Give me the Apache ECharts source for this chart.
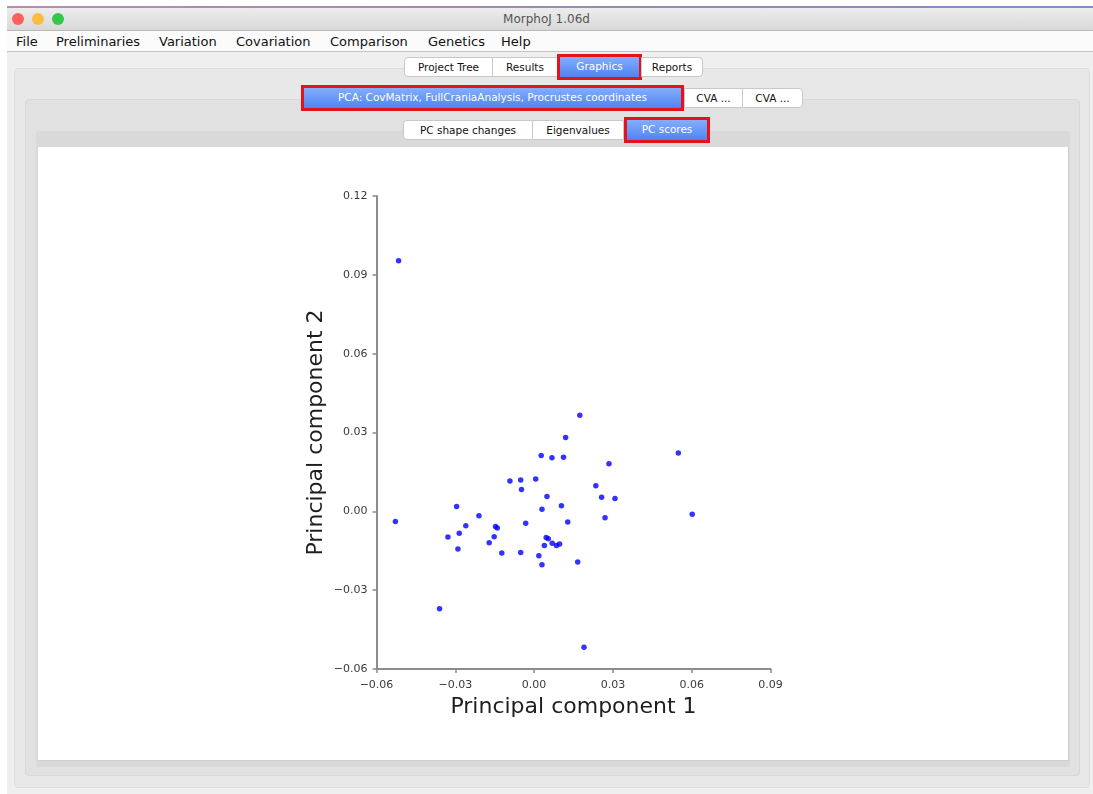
<!DOCTYPE html>
<html>
<head>
<meta charset="utf-8">
<script src="https://cdn.jsdelivr.net/npm/echarts@6/dist/echarts.min.js"></script>
<style>
  html, body { margin: 0; padding: 0; width: 1093px; height: 794px; overflow: hidden; background: #ffffff; font-family: "DejaVu Sans", "Noto Sans", sans-serif; }
  .abs { position: absolute; box-sizing: border-box; }
  .topline { left: 7px; top: 6px; width: 1086px; height: 2px; background: linear-gradient(to right, #c08aa8, #9a8ab8, #7f8cc8); }
  .titlebar { left: 7px; top: 8px; width: 1086px; height: 23px; background: linear-gradient(#ededed, #d8d8d8); border-bottom: 1px solid #b9b9b9; }
  .light { width: 12px; height: 12px; border-radius: 50%; top: 13px; }
  .title { top: 12px; left: 0; width: 1093px; text-align: center; font-size: 12px; color: #555555; }
  .menubar { left: 7px; top: 31px; width: 1086px; height: 21px; background: #fbfbfb; border-bottom: 1px solid #c4c4c4; }
  .menu { top: 34px; font-size: 13px; color: #111; }
  .winbg { left: 7px; top: 52px; width: 1086px; height: 742px; background: #efefef; }
  .p1 { left: 14px; top: 68px; width: 1076px; height: 720px; background: #e8e8e8; border: 1px solid #dedede; border-radius: 4px; }
  .p2 { left: 25px; top: 99px; width: 1055px; height: 677px; background: #e1e1e1; border: 1px solid #d8d8d8; border-radius: 4px; }
  .p3 { left: 36px; top: 131px; width: 1034px; height: 636px; background: #d9d9d9; border-radius: 3px; }
  .plot { left: 38px; top: 147px; width: 1031px; height: 614px; background: #ffffff; border-right: 1px solid #cfcfcf; border-bottom: 1px solid #cfcfcf; }
  .tab { height: 20px; line-height: 19px; font-size: 10.5px; color: #111; text-align: center; background: #ffffff; border: 1px solid #c8c8c8; white-space: nowrap; }
  .sel { height: 20px; line-height: 19px; font-size: 10.5px; color: #ffffff; text-align: center; background: linear-gradient(#84aefc, #4f83f3); white-space: nowrap; }
  .red { border: 3px solid #e3121b; }
  #chart { position: absolute; left: 0; top: 0; width: 1093px; height: 794px; }
</style>
</head>
<body>
<div class="abs topline"></div>
<div class="abs titlebar"></div>
<div class="abs light" style="left:12px;background:#fc605c;"></div>
<div class="abs light" style="left:32px;background:#fdbc40;"></div>
<div class="abs light" style="left:52px;background:#34c84a;"></div>
<div class="abs title">MorphoJ 1.06d</div>
<div class="abs menubar"></div>
<div class="abs menu" style="left:16px;">File</div>
<div class="abs menu" style="left:56px;">Preliminaries</div>
<div class="abs menu" style="left:159px;">Variation</div>
<div class="abs menu" style="left:236px;">Covariation</div>
<div class="abs menu" style="left:330px;">Comparison</div>
<div class="abs menu" style="left:428px;">Genetics</div>
<div class="abs menu" style="left:501px;">Help</div>
<div class="abs winbg"></div>
<div class="abs p1"></div>
<div class="abs p2"></div>
<div class="abs p3"></div>
<div class="abs plot"></div>

<!-- tab row 1 -->
<div class="abs tab" style="left:404px;top:57px;width:89px;border-radius:4px 0 0 4px;">Project Tree</div>
<div class="abs tab" style="left:492px;top:57px;width:66px;">Results</div>
<div class="abs red" style="left:557px;top:54px;width:85px;height:26px;"></div>
<div class="abs sel" style="left:560px;top:57px;width:79px;">Graphics</div>
<div class="abs tab" style="left:641px;top:57px;width:62px;border-radius:0 4px 4px 0;">Reports</div>

<!-- tab row 2 -->
<div class="abs red" style="left:301px;top:85px;width:383px;height:26px;"></div>
<div class="abs sel" style="left:304px;top:88px;width:377px;">PCA: CovMatrix, FullCraniaAnalysis, Procrustes coordinates</div>
<div class="abs tab" style="left:684px;top:88px;width:59px;">CVA ...</div>
<div class="abs tab" style="left:742px;top:88px;width:61px;border-radius:0 4px 4px 0;">CVA ...</div>

<!-- tab row 3 -->
<div class="abs tab" style="left:403px;top:120px;width:130px;border-radius:4px 0 0 4px;">PC shape changes</div>
<div class="abs tab" style="left:532px;top:120px;width:92px;">Eigenvalues</div>
<div class="abs red" style="left:624px;top:117px;width:86px;height:26px;"></div>
<div class="abs sel" style="left:627px;top:120px;width:80px;">PC scores</div>

<div id="chart"></div>
<script>
// PC scores (Principal component 1, Principal component 2)
var pc1 = [-0.0516, -0.0528, -0.0360, 0.0190, 0.0174, 0.0120, 0.0027, 0.0068, 0.0112, 0.0549,
           0.0285, -0.0092, -0.0051, 0.0006, -0.0048, 0.0235, 0.0049, 0.0257, 0.0308, -0.0295,
           0.0104, 0.0030, 0.0602, -0.0210, 0.0270, -0.0032, 0.0128, -0.0260, -0.0147, -0.0140,
           -0.0328, -0.0285, -0.0152, 0.0046, 0.0054, -0.0171, 0.0039, 0.0069, 0.0085, 0.0097,
           -0.0290, -0.0123, -0.0051, 0.0018, 0.0030, 0.0166];
var pc2 = [0.0954, -0.0039, -0.0371, -0.0517, 0.0366, 0.0281, 0.0212, 0.0204, 0.0206, 0.0222,
           0.0181, 0.0115, 0.0119, 0.0123, 0.0083, 0.0097, 0.0056, 0.0054, 0.0049, 0.0018,
           0.0021, 0.0008, -0.0011, -0.0017, -0.0024, -0.0045, -0.0041, -0.0055, -0.0058, -0.0063,
           -0.0098, -0.0083, -0.0097, -0.0100, -0.0104, -0.0120, -0.0130, -0.0121, -0.0130, -0.0124,
           -0.0143, -0.0159, -0.0157, -0.0169, -0.0203, -0.0193];
var xName = "Principal component 1";
var yName = "Principal component 2";
var axisMin = -0.06, xMax = 0.09, yMax = 0.12, step = 0.03;

var points = pc1.map(function (v, i) { return [v, pc2[i]]; });
function fmt(v) { return v.toFixed(2).replace('-', '\u2212'); }

var axisCommon = {
  type: 'value',
  min: axisMin,
  interval: step,
  nameLocation: 'middle',
  nameTextStyle: { fontSize: 22, color: '#1e1e1e', fontFamily: 'DejaVu Sans' },
  axisLine: { show: true, onZero: false, lineStyle: { color: '#8c8c8c', width: 2 } },
  axisTick: { show: true, inside: false, length: 4, lineStyle: { color: '#8c8c8c', width: 1.5 } },
  axisLabel: { formatter: fmt, fontSize: 11, color: '#3a3a3a', fontFamily: 'DejaVu Sans', margin: 9 },
  splitLine: { show: false }
};

var chart = echarts.init(document.getElementById('chart'), null, { renderer: 'canvas' });
chart.setOption({
  backgroundColor: 'transparent',
  animation: false,
  grid: { left: 376.5, top: 196, width: 394, height: 473, containLabel: false },
  xAxis: Object.assign({}, axisCommon, { max: xMax, name: xName, nameGap: 27,
    axisLabel: Object.assign({}, axisCommon.axisLabel, { margin: 11 }) }),
  yAxis: Object.assign({}, axisCommon, { max: yMax, name: yName, nameGap: 49, nameRotate: 90 }),
  series: [{
    type: 'scatter',
    data: points,
    symbol: 'circle',
    symbolSize: 5.5,
    itemStyle: { color: '#0000ff' }
  }]
});
</script>
</body>
</html>
